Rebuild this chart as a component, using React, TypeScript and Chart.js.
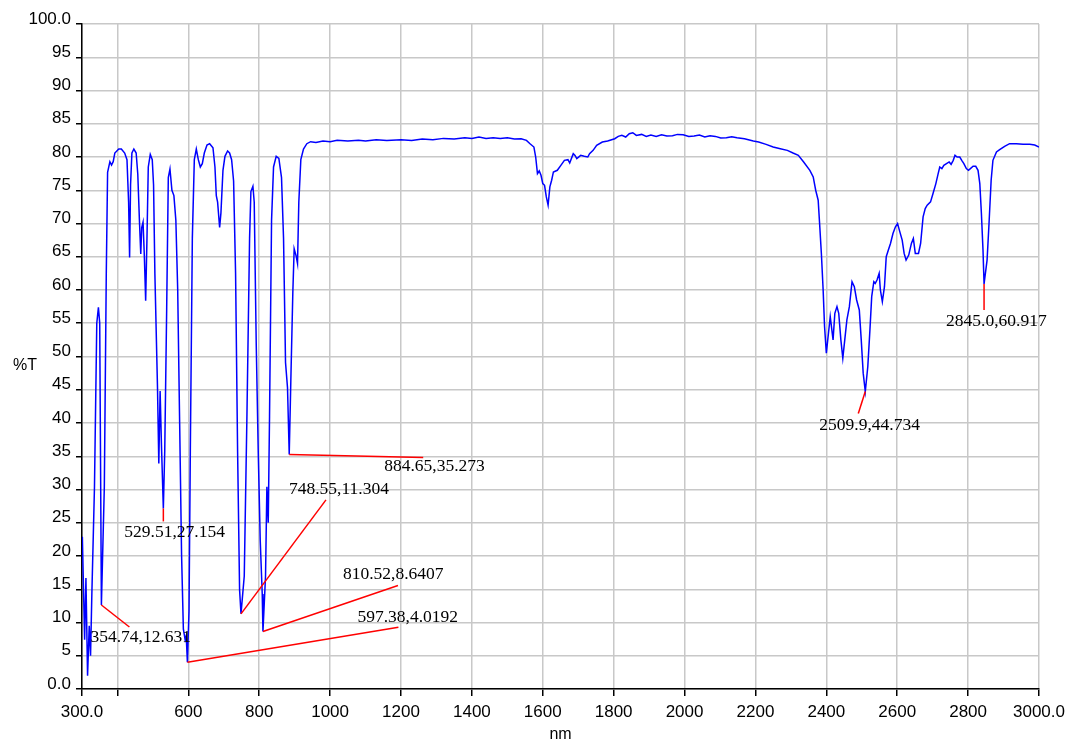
import React, { useEffect, useRef } from "react";
import { Chart, registerables } from "chart.js";

Chart.register(...registerables);

// ---- Data ----
const wavelengths = [
  300, 301, 307.4, 311.1, 315.7, 320.4, 324.1, 327.8, 335.2, 341.7, 346.3, 350.0, 354.74,
  363.0, 368.5, 372.2, 378.7, 383.3, 388.0, 392.6, 403.7, 411.0, 420.4, 426.9, 431.5, 434.3,
  437.0, 440.8, 446.3, 452.8, 457.4, 462.0, 465.8, 468.5, 472.2, 475.9, 479.6, 483.3, 487.0,
  492.6, 498.2, 501.9, 505.6, 513.0, 516.7, 520.4, 524.1, 529.51, 533.4, 538.9, 543.5, 548.2,
  553.7, 559.3, 564.8, 570.0, 575.5, 581.0, 586.0, 591.0, 594.0, 597.38, 601.9, 605.6, 611.3,
  616.9, 622.5, 628.2, 633.8, 639.4, 645.1, 652.6, 660.1, 669.5, 675.1, 678.9, 682.6, 688.3,
  692.0, 697.7, 703.3, 710.8, 716.4, 722.1, 727.7, 733.3, 739.0, 744.6, 748.55, 757.8, 765.3,
  772.8, 776.5, 782.2, 785.9, 791.6, 797.2, 802.8, 808.5, 810.52, 817.8, 821.6, 825.4, 829.1,
  834.8, 840.4, 847.9, 855.4, 862.9, 868.6, 874.2, 879.8, 884.65, 889.2, 894.9, 898.6, 904.2,
  908.0, 911.7, 917.4, 924.9, 934.3, 945, 960, 980, 1000, 1020, 1050, 1080, 1100, 1130, 1160,
  1200, 1230, 1260, 1290, 1320, 1350, 1380, 1400, 1420, 1440, 1460, 1480, 1500, 1520, 1539,
  1554, 1564, 1575, 1580, 1585, 1590, 1595, 1600, 1605, 1610, 1615, 1620, 1625, 1630, 1641,
  1651, 1661, 1671, 1676, 1686, 1691, 1696, 1707, 1717, 1727, 1732, 1742, 1752, 1768, 1783,
  1803, 1813, 1823, 1834, 1844, 1854, 1864, 1879, 1892, 1905, 1920, 1935, 1950, 1966, 1980,
  1996, 2012, 2027, 2042, 2057, 2072, 2087, 2102, 2118, 2133, 2148, 2169, 2194, 2209, 2230,
  2250, 2270, 2290, 2306, 2321, 2336, 2353.5, 2363, 2370, 2377, 2381, 2386, 2391, 2395, 2400,
  2406, 2411, 2419, 2424, 2430, 2435, 2441, 2446.5, 2452, 2458, 2465, 2472.5, 2479, 2485.5,
  2493, 2498.5, 2504, 2509.9, 2517, 2523, 2528, 2534, 2538, 2543, 2549, 2552.5, 2558, 2564,
  2569, 2575, 2581, 2588, 2595, 2601, 2606, 2614, 2619.5, 2625, 2632.5, 2640, 2645.5, 2651,
  2660, 2666, 2673, 2679, 2684.5, 2694, 2701, 2709, 2715.5, 2720, 2726, 2731.5, 2739, 2746.5,
  2752, 2758, 2763, 2769, 2776.5, 2782, 2788, 2795, 2801, 2806.5, 2814, 2821.5, 2828, 2833,
  2837.5, 2842, 2845.0, 2853.5, 2859, 2865, 2870, 2880, 2889, 2903, 2917, 2936, 2955, 2974,
  2988, 3000,
];

const transmittance = [
  20, 22.9, 7.4, 16.7, 2.0, 9.5, 5.0, 14.3, 30.4, 55.0, 57.4, 55.0, 12.631,
  30.4, 62.5, 77.7, 79.3, 78.8, 79.3, 80.6, 81.2, 81.2, 80.6, 79.6, 73.2, 64.9,
  75.8, 80.6, 81.2, 80.6, 77.4, 70.5, 65.4, 69.4, 70.2, 65.1, 58.4, 67.8, 78.5,
  80.4, 79.6, 75.8, 62.5, 45.3, 33.9, 44.8, 36.8, 27.154, 35.7, 57.1, 76.9, 78.2,
  75.0, 74.2, 70.5, 60.0, 40.0, 20.0, 9.0, 7.4, 8.0, 4.0192, 11.7, 35.7, 67.8,
  79.6, 81.2, 79.6, 78.5, 79.0, 80.6, 81.8, 82.0, 81.4, 78.5, 74.2, 73.2, 69.4,
  71.6, 78.0, 80.1, 80.9, 80.6, 79.6, 76.4, 62.5, 35.7, 14.9, 11.304, 17.0, 41.0,
  67.8, 74.8, 75.6, 73.2, 51.8, 35.7, 22.4, 14.3, 8.6407, 17.0, 30.4, 25.0, 41.0,
  70.5, 78.5, 80.1, 79.8, 76.9, 67.8, 49.1, 45.3, 35.273, 46.4, 59.8, 66.2, 65.1,
  64.0, 73.2, 79.6, 81.2, 82.0, 82.3, 82.2, 82.4, 82.3, 82.5, 82.4, 82.5, 82.4, 82.6, 82.5,
  82.6, 82.5, 82.7, 82.6, 82.8, 82.7, 82.9, 82.8, 83.0, 82.8, 82.9, 82.8, 82.9, 82.7, 82.75,
  82.5, 82.0, 81.5, 80.0, 77.5, 77.9, 77.25, 76.0, 75.75, 74.0, 72.75, 75.5, 76.5, 77.75, 78.0,
  78.75, 79.5, 79.6, 79.1, 80.5, 80.25, 79.75, 80.25, 80.1, 80.0, 80.5, 81.0, 81.75, 82.25, 82.4,
  82.75, 83.1, 83.25, 83.0, 83.5, 83.65, 83.25, 83.4, 83.1, 83.3, 83.1, 83.35, 83.15, 83.2, 83.4,
  83.35, 83.1, 83.15, 83.3, 83.0, 83.2, 83.1, 82.85, 82.9, 83.05, 82.9, 82.75, 82.4, 82.25, 81.9,
  81.5, 81.25, 81.0, 80.6, 80.25, 79.25, 78.0, 77.0, 75.0, 73.5, 70.0, 65.5, 60.0, 54.5, 50.5,
  53.5, 56.0, 52.5, 56.5, 57.5, 56.5, 52.5, 49.75, 52.5, 55.5, 57.5, 61.25, 60.5, 58.5,
  57.0, 52.5, 47.5, 44.734, 48.5, 54.0, 59.0, 61.25, 61.0, 61.5, 62.5, 60.0, 58.25, 60.5,
  65.0, 66.0, 67.0, 68.5, 69.5, 70.0, 69.0, 67.5, 65.5, 64.5, 65.25, 67.0, 67.75, 65.5,
  65.5, 67.0, 71.0, 72.25, 72.75, 73.25, 74.5, 76.0, 77.5, 78.5, 78.25, 78.75, 79.0, 79.25,
  78.9, 79.5, 80.25, 80.0, 80.0, 79.5, 79.0, 78.25, 78.0, 78.25, 78.6, 78.6, 78.0, 76.0,
  71.5, 66.0, 60.917, 64.5, 70.0, 76.5, 79.5, 80.75, 81.1, 81.6, 82.0, 82.0, 81.9, 81.9,
  81.8, 81.5,
];

const xTickValues = [300, 400, 600, 800, 1000, 1200, 1400, 1600, 1800, 2000, 2200, 2400, 2600, 2800, 3000];
const xTickLabels = ["300.0", "", "600", "800", "1000", "1200", "1400", "1600", "1800", "2000", "2200", "2400", "2600", "2800", "3000.0"];
const yTickValues = [0, 5, 10, 15, 20, 25, 30, 35, 40, 45, 50, 55, 60, 65, 70, 75, 80, 85, 90, 95, 100];
const yTickLabels = ["0.0", "5", "10", "15", "20", "25", "30", "35", "40", "45", "50", "55", "60", "65", "70", "75", "80", "85", "90", "95", "100.0"];

const peakWavelengths = [354.74, 529.51, 597.38, 748.55, 810.52, 884.65, 2509.9, 2845.0];
const peakTransmittance = [12.631, 27.154, 4.0192, 11.304, 8.6407, 35.273, 44.734, 60.917];
const peakLabels = [
  "354.74,12.631",
  "529.51,27.154",
  "597.38,4.0192",
  "748.55,11.304",
  "810.52,8.6407",
  "884.65,35.273",
  "2509.9,44.734",
  "2845.0,60.917",
];

const xTitle = "nm";
const yTitle = "%T";

// leader-line end offsets and label offsets (pixels, relative to the peak point)
const labelLayout = [
  { lx: 28, ly: 22, tx: -11, ty: 32 },
  { lx: 0, ly: 13, tx: -39, ty: 24 },
  { lx: 211, ly: -35, tx: 170, ty: -45 },
  { lx: 85, ly: -114, tx: 48, ty: -124 },
  { lx: 135, ly: -46, tx: 80, ty: -57 },
  { lx: 134, ly: 3, tx: 95, ty: 12 },
  { lx: -7, ly: 22, tx: -46, ty: 34 },
  { lx: 0, ly: 26, tx: -38, ty: 38 },
];

const SANS = '"Liberation Sans", Arial, sans-serif';
const SERIF = '"Liberation Serif", "Times New Roman", serif';

const peakPlugin = {
  id: "peakAnnotations",
  afterDatasetsDraw(chart: any) {
    const { ctx, scales } = chart;
    const xs = scales.x;
    const ys = scales.y;
    ctx.save();
    peakWavelengths.forEach((w, i) => {
      const px = xs.getPixelForValue(w);
      const py = ys.getPixelForValue(peakTransmittance[i]);
      const L = labelLayout[i];
      ctx.strokeStyle = "#ff0000";
      ctx.lineWidth = 1.5;
      ctx.beginPath();
      ctx.moveTo(px, py);
      ctx.lineTo(px + L.lx, py + L.ly);
      ctx.stroke();
      ctx.fillStyle = "#000000";
      ctx.font = "17.5px " + SERIF;
      ctx.textAlign = "left";
      ctx.textBaseline = "middle";
      ctx.fillText(peakLabels[i], px + L.tx, py + L.ty);
    });
    ctx.fillStyle = "#000000";
    ctx.font = "16px " + SANS;
    ctx.textAlign = "center";
    ctx.textBaseline = "middle";
    ctx.fillText(yTitle, 25, 366);
    ctx.fillText(xTitle, (xs.left + xs.right) / 2, 735);
    ctx.restore();
  },
};

export default function App() {
  const canvasRef = useRef<HTMLCanvasElement | null>(null);

  useEffect(() => {
    const canvas = canvasRef.current;
    if (!canvas) return;
    const points = wavelengths.map((w, i) => ({ x: w, y: transmittance[i] }));
    const chart = new Chart(canvas, {
      type: "line",
      data: {
        datasets: [
          {
            label: "%T",
            data: points,
            borderColor: "#0000ff",
            borderWidth: 1.5,
            pointRadius: 0,
            fill: false,
            tension: 0,
          },
        ],
      },
      options: {
        animation: false,
        responsive: false,
        devicePixelRatio: 1,
        layout: { padding: { left: 0, right: 29, top: 24, bottom: 0 } },
        plugins: {
          legend: { display: false },
          tooltip: { enabled: false },
          title: { display: false },
        },
        scales: {
          x: {
            type: "linear",
            min: 300,
            max: 3000,
            afterBuildTicks: (scale: any) => {
              scale.ticks = xTickValues.map((v) => ({ value: v }));
            },
            afterFit: (scale: any) => {
              scale.height = 55;
              scale.paddingLeft = 0;
              scale.paddingRight = 0;
            },
            grid: {
              color: "#c8c8c8",
              lineWidth: 1.5,
              drawTicks: true,
              tickLength: 7,
              tickColor: "#000000",
              tickWidth: 1.5,
            },
            border: { display: true, color: "#000000", width: 1.5 },
            ticks: {
              autoSkip: false,
              maxRotation: 0,
              color: "#000000",
              padding: 6,
              font: { family: SANS, size: 17 },
              callback: (_v: any, index: number) => xTickLabels[index],
            },
          },
          y: {
            type: "linear",
            min: 0,
            max: 100,
            afterBuildTicks: (scale: any) => {
              scale.ticks = yTickValues.map((v) => ({ value: v }));
            },
            afterFit: (scale: any) => {
              scale.width = 82;
              scale.paddingTop = 0;
              scale.paddingBottom = 0;
            },
            grid: {
              color: "#c8c8c8",
              lineWidth: 1.5,
              drawTicks: true,
              tickLength: 6,
              tickColor: "#000000",
              tickWidth: 1.5,
            },
            border: { display: true, color: "#000000", width: 1.5 },
            ticks: {
              color: "#000000",
              padding: 5,
              labelOffset: -5,
              font: { family: SANS, size: 17 },
              callback: (_v: any, index: number) => yTickLabels[index],
            },
          },
        },
      },
      plugins: [peakPlugin],
    });
    return () => chart.destroy();
  }, []);

  return (
    <div style={{ position: "fixed", left: 0, top: 0, width: 1068, height: 744, background: "#ffffff" }}>
      <canvas ref={canvasRef} width={1068} height={744} style={{ display: "block", width: 1068, height: 744 }} />
    </div>
  );
}
